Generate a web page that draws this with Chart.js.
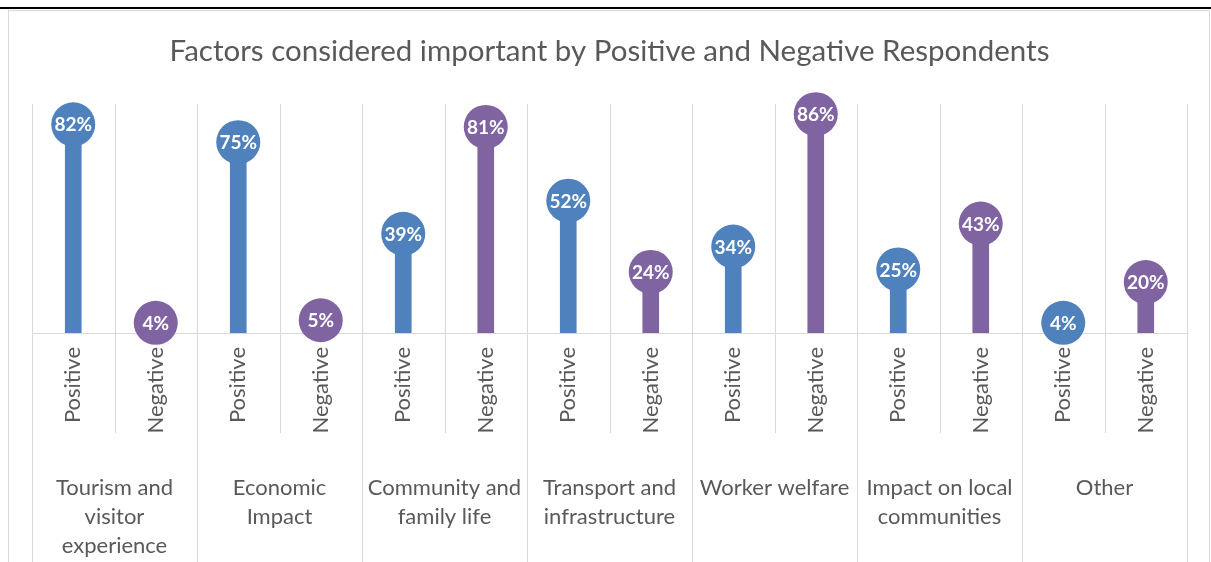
<!DOCTYPE html>
<html>
<head>
<meta charset="utf-8">
<script src="https://cdn.jsdelivr.net/npm/chart.js@4.4.1/dist/chart.umd.min.js"></script>
<style>
html,body{margin:0;padding:0;background:#fff;}
#wrap{width:1211px;height:562px;position:relative;}
</style>
</head>
<body>
<div id="wrap"><canvas id="c" width="1211" height="562"></canvas></div>
<script>
const groups = [
  ["Tourism and", "visitor", "experience"],
  ["Economic", "Impact"],
  ["Community and", "family life"],
  ["Transport and", "infrastructure"],
  ["Worker welfare"],
  ["Impact on local", "communities"],
  ["Other"]
];
const seriesNames = ["Positive", "Negative"];
const positive = [82, 75, 39, 52, 34, 25, 4];
const negative = [4, 5, 81, 24, 86, 43, 20];
const yMax = 90;

const BLUE = "#4F81BD", PURPLE = "#8064A2", GRID = "#D9D9D9", TXT = "#595959";
const FONT = "Lato, 'Open Sans', sans-serif";

const labels = [], values = [], colors = [];
groups.forEach((g, i) => {
  labels.push(seriesNames[0]); values.push(positive[i]); colors.push(BLUE);
  labels.push(seriesNames[1]); values.push(negative[i]); colors.push(PURPLE);
});

const decor = {
  id: 'decor',
  beforeDraw(chart) {
    const ctx = chart.ctx, x = chart.scales.x, ca = chart.chartArea;
    ctx.save();
    ctx.strokeStyle = GRID; ctx.lineWidth = 1;
    ctx.strokeRect(8.5, 10.5, 1201, 560);
    ctx.strokeStyle = "#000"; ctx.lineWidth = 2;
    ctx.beginPath(); ctx.moveTo(0, 8); ctx.lineTo(1211, 8); ctx.stroke();
    ctx.strokeStyle = GRID; ctx.lineWidth = 1;
    const n = labels.length;
    const half = (x.getPixelForValue(1) - x.getPixelForValue(0)) / 2;
    for (let i = 0; i <= n; i++) {
      const px = Math.round(i < n ? x.getPixelForValue(i) - half : x.getPixelForValue(n - 1) + half) + 0.5;
      const bottom = (i % 2 === 0) ? chart.height : ca.bottom + 100;
      ctx.beginPath(); ctx.moveTo(px, ca.top); ctx.lineTo(px, bottom); ctx.stroke();
    }
    const by = Math.round(chart.scales.y.getPixelForValue(0)) + 0.5;
    ctx.beginPath(); ctx.moveTo(ca.left, by); ctx.lineTo(ca.right, by); ctx.stroke();
    ctx.restore();
  },
  afterDraw(chart) {
    const ctx = chart.ctx, x = chart.scales.x, ca = chart.chartArea;
    ctx.save();
    ctx.fillStyle = TXT; ctx.font = "22px " + FONT;
    ctx.textAlign = "center"; ctx.textBaseline = "middle";
    groups.forEach((g, i) => {
      const cx = (x.getPixelForValue(2 * i) + x.getPixelForValue(2 * i + 1)) / 2;
      g.forEach((line, j) => ctx.fillText(line, cx, ca.bottom + 155 + j * 29));
    });
    const meta = chart.getDatasetMeta(1);
    ctx.fillStyle = "#fff"; ctx.font = "bold 19px " + FONT;
    meta.data.forEach((pt, i) => {
      ctx.fillText(values[i] + "%", pt.x, pt.y + 1);
    });
    ctx.restore();
  }
};

new Chart(document.getElementById('c'), {
  data: {
    labels: labels,
    datasets: [
      { type: 'bar', data: values, backgroundColor: colors, barThickness: 16, order: 2 },
      { type: 'line', data: values, showLine: false, pointRadius: 22, pointHoverRadius: 22,
        pointBackgroundColor: colors, pointBorderWidth: 0, pointBorderColor: colors, clip: false, order: 1 }
    ]
  },
  options: {
    responsive: false,
    animation: false,
    events: [],
    layout: { padding: { left: 32, right: 24, top: 0, bottom: 0 } },
    plugins: {
      legend: { display: false },
      tooltip: { enabled: false },
      title: {
        display: true,
        text: "Factors considered important by Positive and Negative Respondents",
        color: TXT,
        font: { family: FONT, size: 29.5, weight: 'normal' },
        padding: { top: 34, bottom: 34.6 }
      }
    },
    scales: {
      y: { display: false, min: 0, max: yMax },
      x: {
        offset: true,
        grid: { display: false, drawTicks: false },
        border: { display: false },
        ticks: { color: TXT, font: { family: FONT, size: 22 }, minRotation: 90, maxRotation: 90, padding: 14, autoSkip: false },
        afterFit(s) { s.height = 229; }
      }
    }
  },
  plugins: [decor]
});
</script>
</body>
</html>
